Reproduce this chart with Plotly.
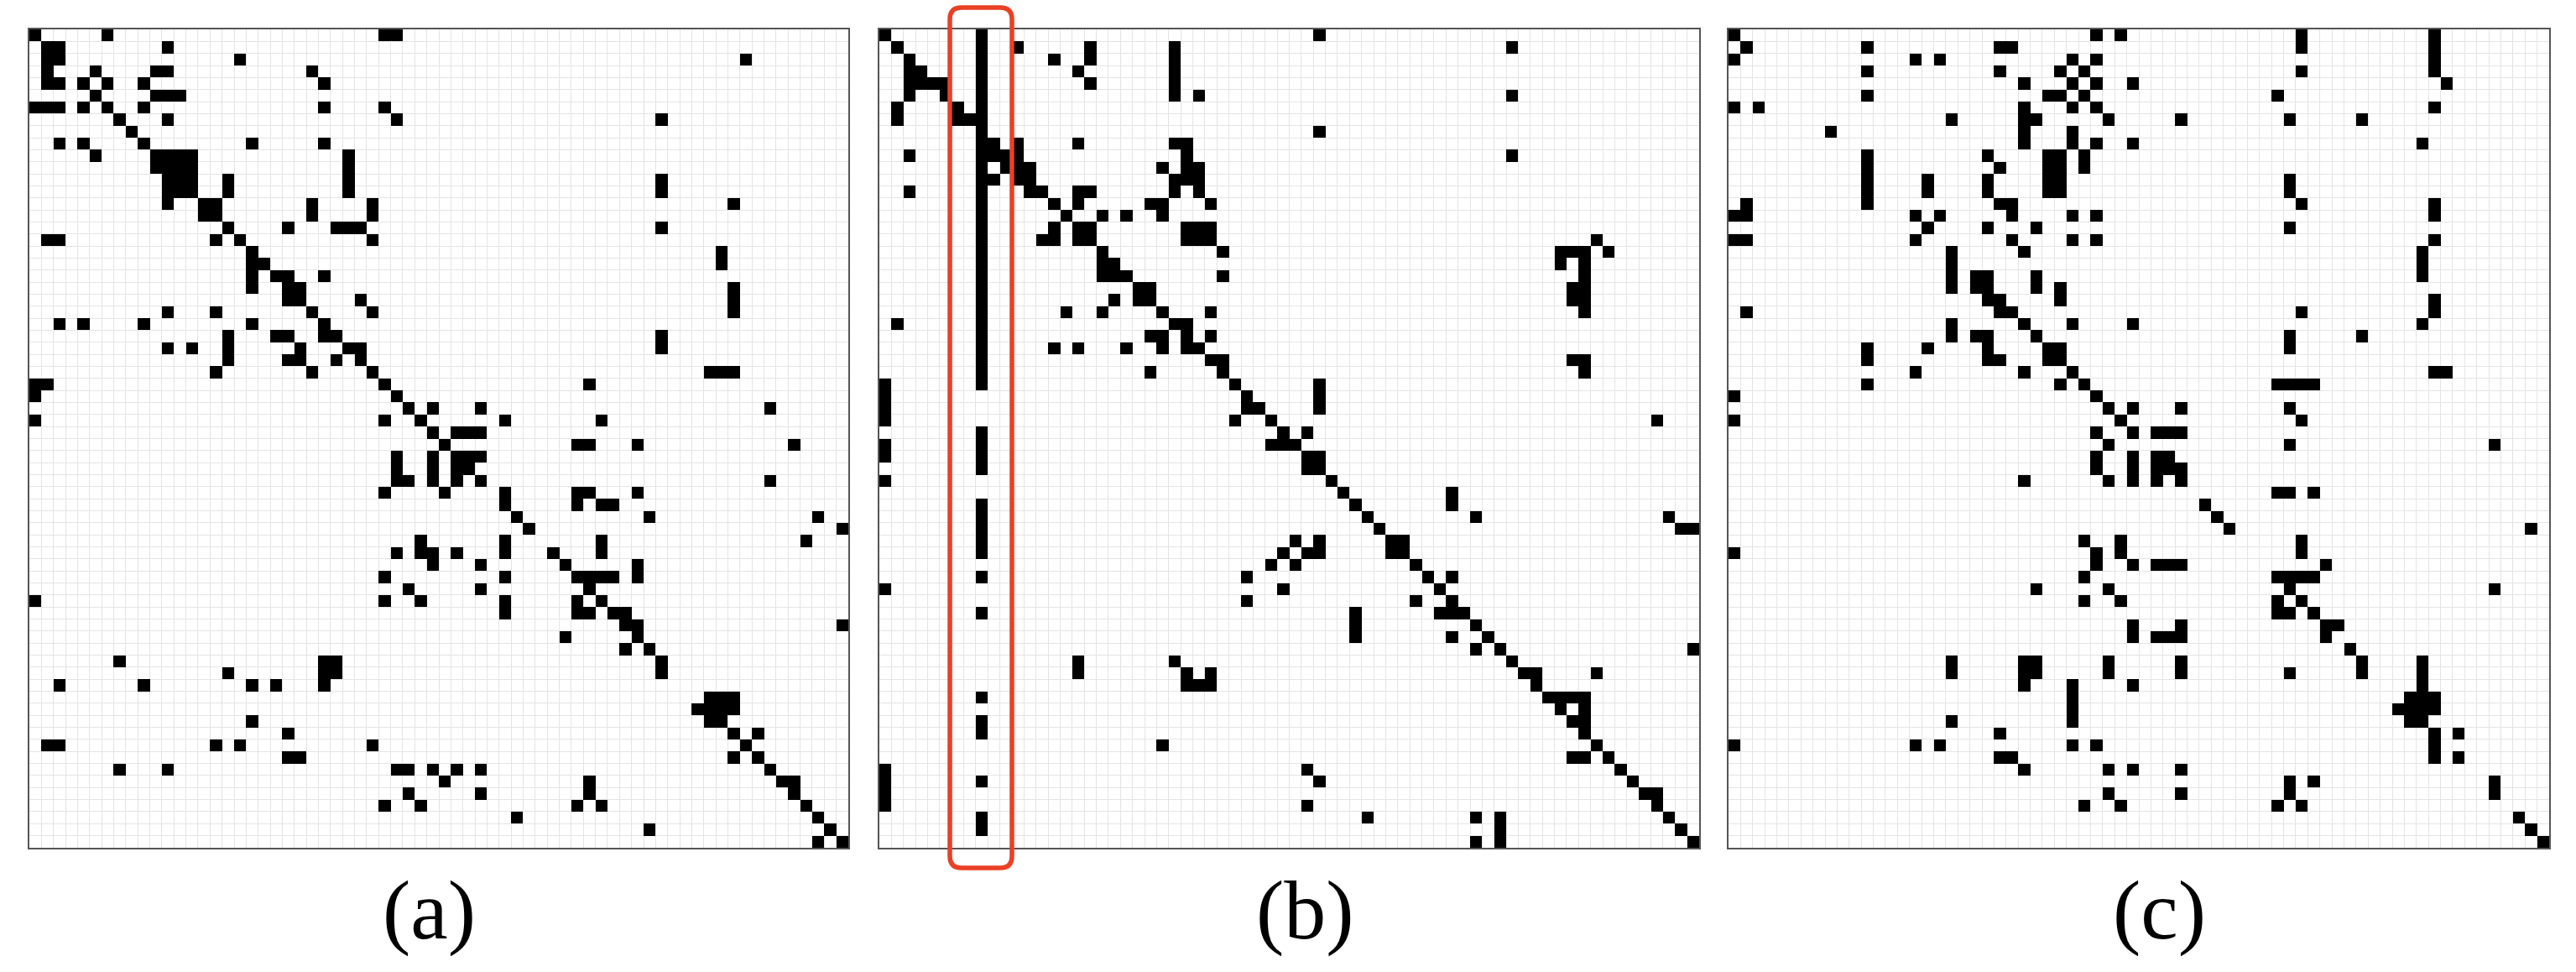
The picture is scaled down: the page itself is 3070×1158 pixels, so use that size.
import plotly.graph_objects as go

W, H = 3070, 1158
N = 68

panel_a_rows = [
[0,6,29,30],[1,2,11],[1,2,17,59],[1,5,10,11,23],[1,2,4,6,9,24],[5,10,11,12],[0,1,2,4,6,9,24,29],[7,11,30,52],
[8],[2,4,9,18,24],[5,10,11,12,13,26],[10,11,12,13,26],[11,12,13,16,26,52],[11,12,13,16,26,52],[11,14,15,23,28,58],[14,15,23,28],
[16,21,25,26,27,52],[1,2,15,17,28],[18,57],[18,19,57],[18,20,21,24],[18,21,22,58],[21,22,27,58],[11,15,23,28,58],
[2,4,9,18,24],[16,20,21,24,25,52],[11,13,16,22,26,27,52],[16,21,22,25,27],[15,23,28,56,57,58],[0,1,29,46],[0,30],[31,33,37,61],
[0,29,32,39,47],[33,35,36,37],[34,45,46,50,63],[30,33,35,36,37],[30,33,35,36],[30,31,33,35,37,61],[29,34,39,45,46,50],[39,45,47,48],
[40,51,65],[41,67],[32,39,47,64],[30,32,33,35,39,43,47],[33,37,44,50],[29,39,45,46,47,48,50],[31,37,46],[0,29,32,39,45,47],
[39,45,46,48,49],[49,50,67],[44,50],[49,51],[7,24,25,52],[16,24,25,52],[2,9,18,20,24],[56,57,58],
[55,56,57,58],[18,56,57],[21,58,60],[1,2,15,17,28,59],[21,22,58,60],[7,11,30,31,33,35,37,61],[34,46,62,63],[31,37,46,63],
[29,32,45,47,64],[40,65],[51,66],[65,67],
]

panel_b_rows = [
[0,8,36],[1,8,11,17,24,52],[2,8,14,17,24],[2,3,8,16,24],[2,3,4,5,8,17,24],[2,5,8,24,26,52],[1,6,8],[1,6,7,8],
[8,36],[8,9,11,16,24,25],[2,8,9,10,11,25,52],[8,10,11,12,23,25,26],[8,9,11,12,24,25,26],[2,8,12,13,16,17,24,26],[8,14,16,22,23,27],[8,15,18,20,23],
[8,14,16,17,25,26,27],[8,13,14,16,17,25,26,27,59],[8,18,28,56,57,58,60],[8,18,19,56,58],[8,18,19,20,28,58],[8,21,22,57,58],[8,19,21,22,57,58],[8,15,18,23,27,58],
[1,8,24,25],[8,22,23,25,27],[8,14,16,20,23,25,26],[8,27,28,57,58],[8,22,28,58],[0,8,29,36],[0,30,36],[0,30,31,36],
[0,29,32,64],[8,33,35],[0,8,32,33,34],[0,8,35,36],[8,35,36],[0,37],[38,47],[8,39,47],
[8,40,49,65],[8,41,66,67],[8,34,36,42,43],[8,33,35,36,42,43],[32,34,44],[8,30,45,47],[0,33,46],[30,44,47],
[8,39,46,47,48],[39,49],[39,47,50],[49,51,67],[16,24,52],[16,25,27,53,54,59],[25,26,27,54],[8,55,56,57,58],
[56,58],[8,57,58],[8,58],[23,59],[57,58,60],[0,35,61],[0,8,36,62],[0,63,64],
[0,35,64],[8,40,49,51,65],[8,51,66],[49,51,67],
]

panel_c_rows = [
[0,30,32,47,58],[1,11,22,23,47,58],[0,15,17,28,30,58],[11,22,27,29,47,58],[24,28,30,33,59],[11,26,27,29,45],[0,2,24,28,30,58],[18,24,25,31,37,46,52],
[8,24,28],[24,28,30,33,57],[11,21,26,27,29],[11,22,26,27,29],[11,16,21,26,27,46],[11,16,21,26,27,46],[1,11,22,23,47,58],[0,1,15,17,23,28,30,58],
[16,21,25,46],[0,1,15,23,28,30,58],[18,24,57],[18,57],[18,20,21,25,57],[18,20,21,25,27],[21,22,27,58],[1,22,23,47,58],
[18,24,28,33,57],[18,20,21,25,46,52],[11,16,21,26,27,46],[11,21,22,26,27],[15,24,28,58,59],[11,27,29,45,46,47,48],[0,30],[31,33,37,46],
[0,32,47],[30,33,35,36,37],[31,46,63],[30,33,35,36],[30,33,35,36,37],[24,31,33,35,37],[45,46,48],[39],
[40],[41,66],[29,32,47],[0,30,32,47],[30,33,35,36,37,49],[29,45,46,47,48],[25,31,46,63],[29,32,45,47],
[45,46,48],[33,37,49,50],[33,35,36,37,49],[51],[18,24,25,31,37,52,57],[18,24,25,31,37,46,52,57],[24,28,33,57],[28,56,57,58],
[28,55,56,57,58],[18,28,56,57],[22,58,60],[0,15,17,28,30,58],[22,23,58,60],[24,31,33,37],[46,48,63],[31,37,46,63],
[29,32,45,47],[65],[66],[67],
]

panel_labels = ["(a)", "(b)", "(c)"]
panels = [panel_a_rows, panel_b_rows, panel_c_rows]

# pixel layout of the three frames
frame_left = [35, 1048, 2060]
frame_right = [1011, 2025, 3038]
frame_top, frame_bottom = 35, 1010
label_x = [511, 1555, 2573]
label_y = 1084


def to_z(rows):
    z = [[None] * N for _ in range(N)]
    for r, cols in enumerate(rows):
        for c in cols:
            z[r][c] = 1
    return z


fig = go.Figure()
for i, rows in enumerate(panels):
    fig.add_trace(go.Heatmap(
        z=to_z(rows), x=list(range(N)), y=list(range(N)),
        colorscale=[[0, "#000000"], [1, "#000000"]], zmin=0, zmax=1,
        showscale=False, hoverongaps=False,
        xaxis=f"x{i+1}" if i else "x", yaxis=f"y{i+1}" if i else "y",
    ))
    axis = dict(range=[-0.5, N - 0.5], tick0=-0.5, dtick=1, showgrid=True,
                gridcolor="#e4e4e4", gridwidth=1, zeroline=False,
                showticklabels=False, ticks="", showline=True, mirror=True,
                linecolor="#555555", linewidth=2, layer="below traces")
    suffix = str(i + 1) if i else ""
    fig.update_layout({
        f"xaxis{suffix}": dict(axis, domain=[frame_left[i] / W, frame_right[i] / W],
                               anchor=f"y{suffix}"),
        f"yaxis{suffix}": dict(axis, range=[N - 0.5, -0.5],
                               domain=[1 - frame_bottom / H, 1 - frame_top / H],
                               anchor=f"x{suffix}"),
    })
    fig.add_annotation(text=panel_labels[i], x=label_x[i] / W, y=1 - label_y / H,
                       xref="paper", yref="paper", showarrow=False,
                       xanchor="center", yanchor="middle",
                       font=dict(family="Liberation Serif", size=100, color="#000000"))

# red rounded highlight box
bx0, bx1, by0, by1, br = 1132, 1206, 9, 1034, 14
def px(x): return x / W
def py(y): return 1 - y / H
path = (f"M {px(bx0 + br)} {py(by0)} L {px(bx1 - br)} {py(by0)} "
        f"Q {px(bx1)} {py(by0)} {px(bx1)} {py(by0 + br)} L {px(bx1)} {py(by1 - br)} "
        f"Q {px(bx1)} {py(by1)} {px(bx1 - br)} {py(by1)} L {px(bx0 + br)} {py(by1)} "
        f"Q {px(bx0)} {py(by1)} {px(bx0)} {py(by1 - br)} L {px(bx0)} {py(by0 + br)} "
        f"Q {px(bx0)} {py(by0)} {px(bx0 + br)} {py(by0)} Z")
fig.add_shape(type="path", path=path, xref="paper", yref="paper",
              line=dict(color="#EA4025", width=5.5), fillcolor="rgba(0,0,0,0)")

fig.update_layout(width=W, height=H, margin=dict(l=0, r=0, t=0, b=0),
                  paper_bgcolor="white", plot_bgcolor="white", showlegend=False)

fig.write_html("out.html", config={"displayModeBar": False},
               post_script="document.body.style.margin='0';document.body.style.overflow='hidden';")
